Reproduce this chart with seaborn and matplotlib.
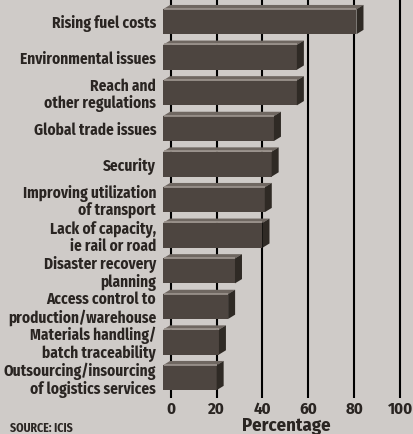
import matplotlib
matplotlib.use("Agg")
import matplotlib.pyplot as plt
from matplotlib.patches import Polygon
import seaborn as sns
import pandas as pd

categories = [
    "Rising fuel costs",
    "Environmental issues",
    "Reach and\nother regulations",
    "Global trade issues",
    "Security",
    "Improving utilization\nof transport",
    "Lack of capacity,\nie rail or road",
    "Disaster recovery\nplanning",
    "Access control to\nproduction/warehouse",
    "Materials handling/\nbatch traceability",
    "Outsourcing/insourcing\nof logistics services",
]
values = [81, 55, 55, 45, 44, 41, 40, 28, 25, 21, 20]
xticks = [0, 20, 40, 60, 80, 100]

BG = "#cfcbc8"
FRONT = "#4d4540"
TOP = "#6f6761"
HILITE = "#9d958f"
SIDE = "#2f2a25"
TXT = "#2a2522"

sns.set_theme(style="white")
plt.rcParams["font.family"] = ["Fira Sans Condensed", "DejaVu Sans"]
plt.rcParams["font.weight"] = "bold"

df = pd.DataFrame({"cat": categories, "val": values})

W, H = 413, 434
fig = plt.figure(figsize=(W / 100, H / 100), dpi=100, facecolor=BG)
xmin, xmax = -3.4, 105
ax = fig.add_axes([163 / W, 1 - 398 / H, (411.5 - 163) / W, 398 / H])
ax.set_facecolor(BG)

sns.barplot(data=df, x="val", y="cat", orient="h", color=FRONT, width=0.70,
            saturation=1, ax=ax, zorder=3, edgecolor="none")
ax.set_xlim(xmin, xmax)
ax.set_ylim(10.57, -0.61)

# 3-D look: extend bars to the axis edge and add top/side faces
dx = 7 / ((411.5 - 163) / (xmax - xmin))
dy = 4.3 / (398 / 11.18)
for p in list(ax.patches):
    w = p.get_width()
    p.set_x(xmin)
    p.set_width(w - xmin)
    x0, x1 = xmin, w
    yt, yb = p.get_y(), p.get_y() + p.get_height()
    ax.add_patch(Polygon([(x0, yt), (x1, yt), (x1 + dx, yt - dy), (x0 + dx, yt - dy)],
                         closed=True, facecolor=TOP, edgecolor="none", zorder=3))
    ax.plot([x0 + 0.3, x1], [yt - 0.015, yt - 0.015], color=HILITE, lw=1.2, zorder=3.5,
            solid_capstyle="butt")
    ax.add_patch(Polygon([(x1, yt), (x1 + dx, yt - dy), (x1 + dx, yb - dy), (x1, yb)],
                         closed=True, facecolor=SIDE, edgecolor="none", zorder=3))

ax.set_xticks(xticks)
ax.set_xticklabels([str(t) for t in xticks])
ax.grid(axis="x", color="black", lw=1.5, zorder=0)
ax.grid(axis="y", visible=False)
ax.set_axisbelow(True)
for s in ax.spines.values():
    s.set_visible(False)
ax.tick_params(axis="both", length=0)
ax.tick_params(axis="x", pad=2.5, labelsize=12, labelcolor=TXT)
ax.tick_params(axis="y", pad=5, labelsize=11, labelcolor=TXT)
for lab in ax.get_yticklabels():
    lab.set_fontweight("bold")
    lab.set_linespacing(1.08)
for lab in ax.get_xticklabels():
    lab.set_fontweight("bold")
ax.set_xlabel("")
ax.set_ylabel("")

fig.text(286 / W, 1 - 417 / H, "Percentage", ha="center", va="top", fontsize=13.5,
         fontweight="bold", color=TXT)
fig.text(10 / W, 1 - 422 / H, "SOURCE: ICIS", ha="left", va="top", fontsize=8.5,
         fontweight="bold", color=TXT)

fig.savefig("out.png", dpi=100, facecolor=BG)
